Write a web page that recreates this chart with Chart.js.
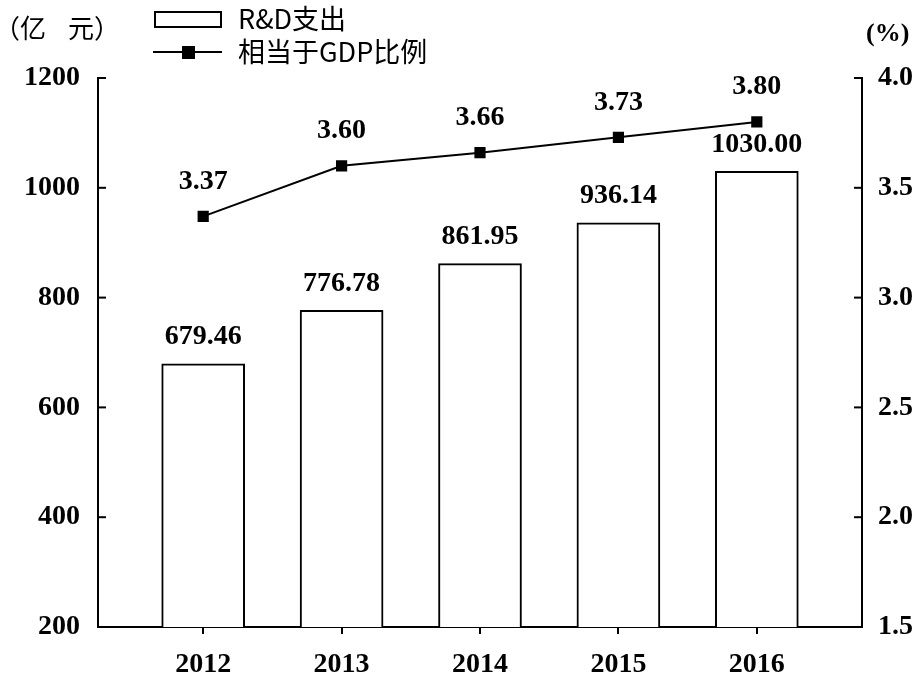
<!DOCTYPE html>
<html>
<head>
<meta charset="utf-8">
<script src="https://cdn.jsdelivr.net/npm/chart.js@4"></script>
<style>
  html, body { margin: 0; padding: 0; background: #fff; }
  #wrap { width: 923px; height: 684px; }
</style>
</head>
<body>
<div id="wrap"><canvas id="chart"></canvas></div>
<script>
const years = ["2012", "2013", "2014", "2015", "2016"];
const rdSpend = [679.46, 776.78, 861.95, 936.14, 1030.00];
const gdpShare = [3.37, 3.60, 3.66, 3.73, 3.80];
const leftTicks = [200, 400, 600, 800, 1000, 1200];
const rightTicks = [1.5, 2.0, 2.5, 3.0, 3.5, 4.0];

const serif = "'Liberation Serif', 'DejaVu Serif', serif";
const numFont = "bold 28px " + serif;
const cjkFont = "26px 'Noto Sans CJK SC', sans-serif";

// inward ticks, value labels and the legend at the top
const decor = {
  id: "decor",
  afterDatasetsDraw(chart) {
    const { ctx, scales } = chart;
    const y = scales.y, y1 = scales.y1;
    ctx.save();
    ctx.strokeStyle = "#000";
    ctx.lineWidth = 2;
    leftTicks.forEach(v => {
      const py = y.getPixelForValue(v);
      ctx.beginPath(); ctx.moveTo(y.right, py); ctx.lineTo(y.right + 8, py); ctx.stroke();
    });
    rightTicks.forEach(v => {
      const py = y1.getPixelForValue(v);
      ctx.beginPath(); ctx.moveTo(y1.left, py); ctx.lineTo(y1.left - 8, py); ctx.stroke();
    });

    ctx.fillStyle = "#000";
    ctx.font = numFont;
    ctx.textAlign = "center";
    ctx.textBaseline = "middle";
    chart.getDatasetMeta(1).data.forEach((bar, i) => {
      ctx.fillText(rdSpend[i].toFixed(2), bar.x, bar.y - 27);
    });
    chart.getDatasetMeta(0).data.forEach((pt, i) => {
      ctx.fillText(gdpShare[i].toFixed(2), pt.x, pt.y - 35);
    });

    // unit labels
    ctx.font = cjkFont;
    ctx.textAlign = "left";
    ctx.fillText("（亿", -6, 28);
    ctx.fillText("元）", 68, 28);
    ctx.font = "bold 26px " + serif;
    ctx.fillText("(%)", 866, 34);

    // legend
    ctx.lineWidth = 2;
    ctx.fillStyle = "#fff";
    ctx.fillRect(155, 12, 66, 15);
    ctx.strokeRect(155, 12, 66, 15);
    ctx.beginPath(); ctx.moveTo(153, 52); ctx.lineTo(222, 52); ctx.stroke();
    ctx.fillStyle = "#000";
    ctx.fillRect(182, 46, 13, 13);
    ctx.font = "27px 'Noto Sans CJK SC', sans-serif";
    ctx.fillText("R&D支出", 238, 19);
    ctx.fillText("相当于GDP比例", 238, 52);
    ctx.restore();
  }
};

const tickFont = { family: serif, size: 28, weight: "bold" };

new Chart(document.getElementById("chart"), {
  type: "bar",
  data: {
    datasets: [
      {
        type: "line",
        label: "相当于GDP比例",
        data: gdpShare.map((v, i) => ({ x: i, y: v })),
        yAxisID: "y1",
        borderColor: "#000",
        borderWidth: 2,
        pointStyle: "rect",
        pointRadius: 6.5,
        pointBackgroundColor: "#000",
        pointBorderColor: "#000",
        order: 0
      },
      {
        label: "R&D支出",
        data: rdSpend.map((v, i) => ({ x: i, y: v })),
        yAxisID: "y",
        backgroundColor: "#fff",
        borderColor: "#000",
        borderWidth: 2,
        borderSkipped: false,
        barThickness: 83,
        order: 1
      }
    ]
  },
  options: {
    responsive: true,
    maintainAspectRatio: false,
    animation: false,
    layout: { padding: { top: 78, right: 0, left: 0, bottom: 0 } },
    plugins: { legend: { display: false }, tooltip: { enabled: false } },
    scales: {
      x: {
        type: "linear",
        offset: false,
        min: -0.76,
        max: 4.76,
        afterBuildTicks: s => { s.ticks = years.map((_, i) => ({ value: i })); },
        afterFit: s => { s.height = 57; },
        ticks: {
          callback: v => years[v],
          color: "#000",
          font: tickFont,
          padding: 14,
          maxRotation: 0
        },
        grid: { offset: false, drawOnChartArea: false, tickLength: 7, color: "#000", lineWidth: 2 },
        border: { color: "#000", width: 2 }
      },
      y: {
        position: "left",
        min: 200,
        max: 1200,
        afterBuildTicks: s => { s.ticks = leftTicks.map(v => ({ value: v })); },
        afterFit: s => { s.width = 98; },
        ticks: {
          callback: v => String(v),
          color: "#000",
          font: tickFont,
          padding: 10
        },
        grid: { display: false },
        border: { color: "#000", width: 2 }
      },
      y1: {
        position: "right",
        min: 1.5,
        max: 4.0,
        afterBuildTicks: s => { s.ticks = rightTicks.map(v => ({ value: v })); },
        afterFit: s => { s.width = 61; },
        ticks: {
          callback: v => v.toFixed(1),
          color: "#000",
          font: tickFont,
          padding: 8
        },
        grid: { display: false },
        border: { color: "#000", width: 2 }
      }
    }
  },
  plugins: [decor]
});
</script>
</body>
</html>
